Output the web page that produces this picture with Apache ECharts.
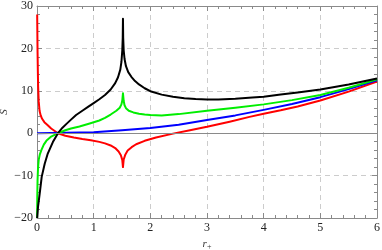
<!DOCTYPE html>
<html>
<head>
<meta charset="utf-8">
<script src="https://cdn.jsdelivr.net/npm/echarts@6/dist/echarts.min.js"></script>
<style>
html,body{margin:0;padding:0;background:#fff;}
#c{width:382px;height:250px;}
</style>
</head>
<body>
<div id="c"></div>
<script>
var xTicks = [0, 1, 2, 3, 4, 5, 6];
var yTicks = [-20, -10, 0, 10, 20, 30];

var redData = [[0.003,28],[0.006,24],[0.01,19],[0.015,14.5],[0.02,11],[0.03,7.5],[0.045,5.3],[0.065,4.2],[0.09,3.4],[0.13,2.6],[0.18,2.0],[0.25,1.1],[0.37,0],[0.5,-0.6],[0.65,-1.0],[0.8,-1.35],[0.95,-1.65],[1.1,-2.05],[1.2,-2.4],[1.3,-2.9],[1.38,-3.5],[1.44,-4.3],[1.48,-5.2],[1.505,-6.3],[1.517,-8],[1.53,-6.2],[1.56,-5.0],[1.6,-4.1],[1.67,-3.3],[1.75,-2.6],[1.9,-1.8],[2.1,-1.0],[2.4,-0.1],[2.7,0.7],[3.0,1.5],[3.4,2.7],[3.75,3.85],[4.0,4.6],[4.3,5.4],[4.6,6.3],[5.0,7.7],[5.5,9.8],[6.0,12.2]];
var blueData = [[0,0],[0.5,0.08],[1,0.25],[1.5,0.7],[2,1.25],[2.5,2.0],[3,3.1],[3.5,4.2],[4,5.5],[4.5,6.9],[5,8.5],[5.5,10.4],[6,12.5]];
var greenData = [[0.002,-20],[0.005,-15],[0.01,-11],[0.018,-8.2],[0.03,-6.3],[0.05,-5],[0.077,-4],[0.12,-2.7],[0.165,-1.8],[0.25,-0.8],[0.37,0],[0.5,0.7],[0.6,1.1],[0.75,1.6],[0.93,2.3],[1.1,3.0],[1.2,3.6],[1.3,4.4],[1.4,5.3],[1.46,6.0],[1.49,6.8],[1.505,7.7],[1.517,9.4],[1.53,7.6],[1.545,6.6],[1.57,5.9],[1.62,5.3],[1.7,4.9],[1.8,4.6],[1.9,4.4],[2.0,4.3],[2.2,4.2],[2.5,4.5],[3,5.3],[3.5,6.0],[4,6.8],[4.5,7.8],[5,9.0],[5.5,10.7],[6,12.7]];
var blackData = [[0.003,-20],[0.018,-17.4],[0.048,-14.2],[0.083,-10.3],[0.136,-7.2],[0.19,-4.8],[0.28,-2.1],[0.37,0],[0.45,1.3],[0.52,2.2],[0.6,3.2],[0.69,4.3],[0.8,5.3],[0.9,6.2],[1.0,7.1],[1.1,8.0],[1.2,9.0],[1.3,10.3],[1.38,11.8],[1.43,13.2],[1.47,15.0],[1.49,16.8],[1.505,19.5],[1.513,22.5],[1.517,27],[1.521,22.5],[1.53,19.5],[1.545,17.5],[1.57,15.8],[1.61,14.4],[1.665,13.3],[1.73,12.3],[1.8,11.5],[1.9,10.6],[2.0,9.9],[2.2,9.1],[2.4,8.6],[2.6,8.25],[2.8,8.05],[3.0,7.95],[3.2,7.95],[3.5,8.1],[3.8,8.4],[4.0,8.6],[4.3,9.1],[4.6,9.6],[5.0,10.3],[5.5,11.5],[6.0,12.9]];

var serif = '"Liberation Serif", "DejaVu Serif", serif';
var gridCol = '#cccccc';
var frameCol = '#8a8a8a';

function xAx(pos, labels) {
  return {
    type: 'value', position: pos, min: 0, max: 6, interval: 1,
    axisLine: {show: true, onZero: false, lineStyle: {color: frameCol, width: 1}},
    axisTick: {show: true, inside: true, length: 5, lineStyle: {color: frameCol}},
    minorTick: {show: true, splitNumber: 5, length: 3, lineStyle: {color: frameCol}},
    axisLabel: {show: labels, color: '#222', fontFamily: serif, fontSize: 12, margin: 4,
      formatter: function (v) { return xTicks.indexOf(v) >= 0 ? String(v) : ''; }},
    splitLine: {show: labels, lineStyle: {color: gridCol, type: [5, 4], width: 1}},
    name: labels ? '{i|r}{s|+}' : '',
    nameLocation: 'middle', nameGap: 19, nameMoveOverlap: false,
    nameTextStyle: {rich: {
      i: {fontFamily: serif, fontStyle: 'italic', fontSize: 11, color: '#333'},
      s: {fontFamily: serif, fontSize: 8, color: '#333', padding: [6, 0, 0, 0]}
    }}
  };
}
function yAx(pos, labels) {
  return {
    type: 'value', position: pos, min: -20, max: 30, interval: 10,
    axisLine: {show: true, onZero: false, lineStyle: {color: frameCol, width: 1}},
    axisTick: {show: true, inside: true, length: 5, lineStyle: {color: frameCol}},
    minorTick: {show: true, splitNumber: 5, length: 3, lineStyle: {color: frameCol}},
    axisLabel: {show: labels, color: '#222', fontFamily: serif, fontSize: 12, margin: 4,
      formatter: function (v) { return yTicks.indexOf(v) >= 0 ? (v < 0 ? '\u2212' + (-v) : String(v)) : ''; }},
    splitLine: {show: labels, lineStyle: {color: gridCol, type: [5, 4], width: 1}},
    name: labels ? 'S' : '',
    nameLocation: 'middle', nameGap: 27, nameRotate: 90, nameMoveOverlap: false,
    nameTextStyle: {fontFamily: serif, fontStyle: 'italic', fontSize: 11, color: '#333'}
  };
}

function ser(name, data, color, extra) {
  var s = {
    name: name, type: 'line', data: data, xAxisIndex: 0, yAxisIndex: 0,
    showSymbol: false, symbol: 'none', smooth: false,
    lineStyle: {color: color, width: 2, join: 'round'}, clip: true, animation: false
  };
  if (extra) for (var k in extra) s[k] = extra[k];
  return s;
}

var chart = echarts.init(document.getElementById('c'), null, {renderer: 'canvas'});
chart.setOption({
  animation: false,
  backgroundColor: '#ffffff',
  grid: {left: 37, right: 5, top: 6, bottom: 32, containLabel: false, outerBoundsMode: 'none'},
  xAxis: [xAx('bottom', true), xAx('top', false)],
  yAxis: [yAx('left', true), yAx('right', false)],
  series: [
    ser('red', redData, '#ff0000', {
      markLine: {silent: true, symbol: 'none', label: {show: false},
        lineStyle: {color: '#8a8a8a', type: 'solid', width: 1},
        data: [{yAxis: 0}]}
    }),
    ser('blue', blueData, '#0000ff'),
    ser('green', greenData, '#00ee00'),
    ser('black', blackData, '#000000')
  ]
});
</script>
</body>
</html>
